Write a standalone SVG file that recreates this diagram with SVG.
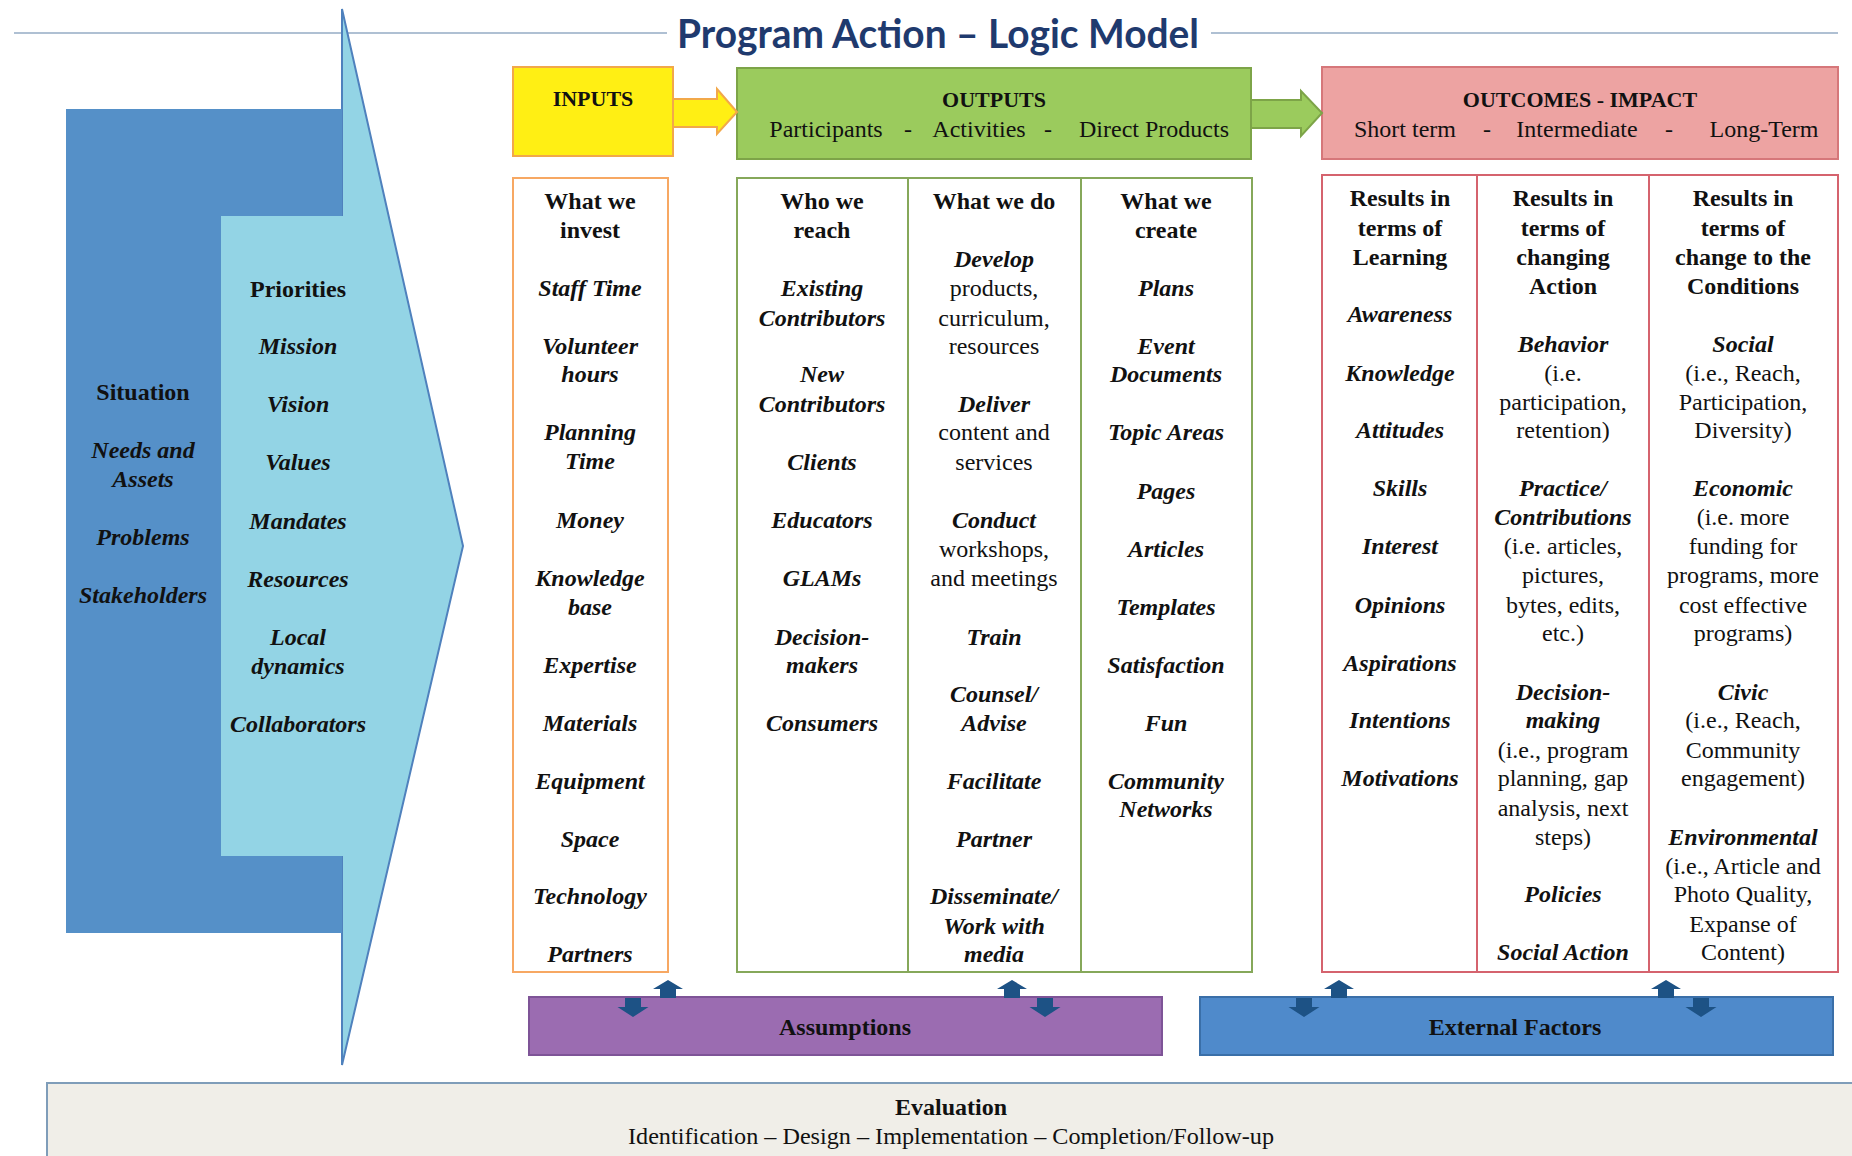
<svg xmlns="http://www.w3.org/2000/svg" width="1852" height="1156" viewBox="0 0 1852 1156">
<style>
text{font-family:"Liberation Serif","Times New Roman",serif;font-size:24px;fill:#111;text-anchor:middle}
.b{font-weight:bold}
.bi{font-weight:bold;font-style:italic}
.h{font-weight:bold;font-size:22px}
.title{font-family:Lato,"Open Sans",sans-serif;font-weight:700;font-size:40px;fill:#1F3A6E;text-anchor:start}
.sa{fill:#1D5285}
</style>
<defs>
<path id="up" d="M-8,18 L-8,9 L-15,9 L0,0 L15,9 L8,9 L8,18 Z"/>
<path id="down" d="M-8,0 L8,0 L8,9 L15.5,9 L0,19 L-15.5,9 L-8,9 Z"/>
</defs>
<rect width="1852" height="1156" fill="#fff"/>

<g id="title">
<line x1="14" y1="33" x2="667" y2="33" stroke="#AFC0D3" stroke-width="2"/>
<line x1="1211" y1="33" x2="1838" y2="33" stroke="#AFC0D3" stroke-width="2"/>
<text class="title" x="677" y="48" textLength="522" lengthAdjust="spacingAndGlyphs">Program Action – Logic Model</text>
</g>

<g id="situation-priorities">
<polygon points="342,9 463,546 342,1065" fill="#93D4E5" stroke="#4F81BD" stroke-width="2"/>
<rect x="66" y="109" width="276" height="824" fill="#5590C8"/>
<rect x="221" y="216" width="123" height="640" fill="#93D4E5"/>
<text class="b" x="143" y="400">Situation</text>
<text class="bi" x="143" y="458">Needs and</text>
<text class="bi" x="143" y="487">Assets</text>
<text class="bi" x="143" y="545">Problems</text>
<text class="bi" x="143" y="603">Stakeholders</text>
<text class="b" x="298" y="297">Priorities</text>
<text class="bi" x="298" y="354">Mission</text>
<text class="bi" x="298" y="412">Vision</text>
<text class="bi" x="298" y="470">Values</text>
<text class="bi" x="298" y="529">Mandates</text>
<text class="bi" x="298" y="587">Resources</text>
<text class="bi" x="298" y="645">Local</text>
<text class="bi" x="298" y="674">dynamics</text>
<text class="bi" x="298" y="732">Collaborators</text>
</g>

<g id="inputs-header">
<rect x="513" y="67" width="160" height="89" fill="#FFEF14" stroke="#F2A84A" stroke-width="2"/>
<text class="h" x="593" y="106">INPUTS</text>
</g>
<g id="outputs-header">
<rect x="737" y="68" width="514" height="91" fill="#9BCB5D" stroke="#7DA448" stroke-width="2"/>
<text class="h" x="994" y="107">OUTPUTS</text>
<text x="826" y="137">Participants</text>
<text x="908" y="137">-</text>
<text x="979" y="137">Activities</text>
<text x="1048" y="137">-</text>
<text x="1154" y="137">Direct Products</text>
</g>
<g id="outcomes-header">
<rect x="1322" y="67" width="516" height="92" fill="#EDA3A2" stroke="#D6777A" stroke-width="2"/>
<text class="h" x="1580" y="107">OUTCOMES - IMPACT</text>
<text x="1405" y="137">Short term</text>
<text x="1487" y="137">-</text>
<text x="1577" y="137">Intermediate</text>
<text x="1669" y="137">-</text>
<text x="1764" y="137">Long-Term</text>
</g>

<g id="inputs-column">
<rect x="513" y="178" width="155" height="794" fill="#fff" stroke="#F7A863" stroke-width="2"/>
<text class="b" x="590" y="209">What we</text>
<text class="b" x="590" y="238">invest</text>
<text class="bi" x="590" y="296">Staff Time</text>
<text class="bi" x="590" y="354">Volunteer</text>
<text class="bi" x="590" y="382">hours</text>
<text class="bi" x="590" y="440">Planning</text>
<text class="bi" x="590" y="469">Time</text>
<text class="bi" x="590" y="528">Money</text>
<text class="bi" x="590" y="586">Knowledge</text>
<text class="bi" x="590" y="615">base</text>
<text class="bi" x="590" y="673">Expertise</text>
<text class="bi" x="590" y="731">Materials</text>
<text class="bi" x="590" y="789">Equipment</text>
<text class="bi" x="590" y="847">Space</text>
<text class="bi" x="590" y="904">Technology</text>
<text class="bi" x="590" y="962">Partners</text>
</g>

<g id="outputs-columns">
<rect x="737" y="178" width="515" height="794" fill="#fff" stroke="#86A85A" stroke-width="2"/>
<line x1="908" y1="178" x2="908" y2="972" stroke="#86A85A" stroke-width="2"/>
<line x1="1081" y1="178" x2="1081" y2="972" stroke="#86A85A" stroke-width="2"/>
<text class="b" x="822" y="209">Who we</text>
<text class="b" x="822" y="238">reach</text>
<text class="bi" x="822" y="296">Existing</text>
<text class="bi" x="822" y="326">Contributors</text>
<text class="bi" x="822" y="382">New</text>
<text class="bi" x="822" y="412">Contributors</text>
<text class="bi" x="822" y="470">Clients</text>
<text class="bi" x="822" y="528">Educators</text>
<text class="bi" x="822" y="586">GLAMs</text>
<text class="bi" x="822" y="645">Decision-</text>
<text class="bi" x="822" y="673">makers</text>
<text class="bi" x="822" y="731">Consumers</text>

<text class="b" x="994" y="209">What we do</text>
<text class="bi" x="994" y="267">Develop</text>
<text x="994" y="296">products,</text>
<text x="994" y="326">curriculum,</text>
<text x="994" y="354">resources</text>
<text class="bi" x="994" y="412">Deliver</text>
<text x="994" y="440">content and</text>
<text x="994" y="470">services</text>
<text class="bi" x="994" y="528">Conduct</text>
<text x="994" y="557">workshops,</text>
<text x="994" y="586">and meetings</text>
<text class="bi" x="994" y="645">Train</text>
<text class="bi" x="994" y="702">Counsel/</text>
<text class="bi" x="994" y="731">Advise</text>
<text class="bi" x="994" y="789">Facilitate</text>
<text class="bi" x="994" y="847">Partner</text>
<text class="bi" x="994" y="904">Disseminate/</text>
<text class="bi" x="994" y="934">Work with</text>
<text class="bi" x="994" y="962">media</text>

<text class="b" x="1166" y="209">What we</text>
<text class="b" x="1166" y="238">create</text>
<text class="bi" x="1166" y="296">Plans</text>
<text class="bi" x="1166" y="354">Event</text>
<text class="bi" x="1166" y="382">Documents</text>
<text class="bi" x="1166" y="440">Topic Areas</text>
<text class="bi" x="1166" y="499">Pages</text>
<text class="bi" x="1166" y="557">Articles</text>
<text class="bi" x="1166" y="615">Templates</text>
<text class="bi" x="1166" y="673">Satisfaction</text>
<text class="bi" x="1166" y="731">Fun</text>
<text class="bi" x="1166" y="789">Community</text>
<text class="bi" x="1166" y="817">Networks</text>
</g>

<g id="outcomes-columns">
<rect x="1322" y="175" width="516" height="797" fill="#fff" stroke="#D5636E" stroke-width="2"/>
<line x1="1477" y1="175" x2="1477" y2="972" stroke="#D5636E" stroke-width="2"/>
<line x1="1649" y1="175" x2="1649" y2="972" stroke="#D5636E" stroke-width="2"/>
<text class="b" x="1400" y="206">Results in</text>
<text class="b" x="1400" y="236">terms of</text>
<text class="b" x="1400" y="265">Learning</text>
<text class="bi" x="1400" y="322">Awareness</text>
<text class="bi" x="1400" y="381">Knowledge</text>
<text class="bi" x="1400" y="438">Attitudes</text>
<text class="bi" x="1400" y="496">Skills</text>
<text class="bi" x="1400" y="554">Interest</text>
<text class="bi" x="1400" y="613">Opinions</text>
<text class="bi" x="1400" y="671">Aspirations</text>
<text class="bi" x="1400" y="728">Intentions</text>
<text class="bi" x="1400" y="786">Motivations</text>

<text class="b" x="1563" y="206">Results in</text>
<text class="b" x="1563" y="236">terms of</text>
<text class="b" x="1563" y="265">changing</text>
<text class="b" x="1563" y="294">Action</text>
<text class="bi" x="1563" y="352">Behavior</text>
<text x="1563" y="381">(i.e.</text>
<text x="1563" y="410">participation,</text>
<text x="1563" y="438">retention)</text>
<text class="bi" x="1563" y="496">Practice/</text>
<text class="bi" x="1563" y="525">Contributions</text>
<text x="1563" y="554">(i.e. articles,</text>
<text x="1563" y="583">pictures,</text>
<text x="1563" y="613">bytes, edits,</text>
<text x="1563" y="641">etc.)</text>
<text class="bi" x="1563" y="700">Decision-</text>
<text class="bi" x="1563" y="728">making</text>
<text x="1563" y="758">(i.e., program</text>
<text x="1563" y="786">planning, gap</text>
<text x="1563" y="816">analysis, next</text>
<text x="1563" y="845">steps)</text>
<text class="bi" x="1563" y="902">Policies</text>
<text class="bi" x="1563" y="960">Social Action</text>

<text class="b" x="1743" y="206">Results in</text>
<text class="b" x="1743" y="236">terms of</text>
<text class="b" x="1743" y="265">change to the</text>
<text class="b" x="1743" y="294">Conditions</text>
<text class="bi" x="1743" y="352">Social</text>
<text x="1743" y="381">(i.e.,  Reach,</text>
<text x="1743" y="410">Participation,</text>
<text x="1743" y="438">Diversity)</text>
<text class="bi" x="1743" y="496">Economic</text>
<text x="1743" y="525">(i.e. more</text>
<text x="1743" y="554">funding for</text>
<text x="1743" y="583">programs, more</text>
<text x="1743" y="613">cost effective</text>
<text x="1743" y="641">programs)</text>
<text class="bi" x="1743" y="700">Civic</text>
<text x="1743" y="728">(i.e., Reach,</text>
<text x="1743" y="758">Community</text>
<text x="1743" y="786">engagement)</text>
<text class="bi" x="1743" y="845">Environmental</text>
<text x="1743" y="874">(i.e., Article and</text>
<text x="1743" y="902">Photo Quality,</text>
<text x="1743" y="932">Expanse of</text>
<text x="1743" y="960">Content)</text>
</g>

<g id="assumptions">
<rect x="529" y="997" width="633" height="58" fill="#9B6CB1" stroke="#7E5497" stroke-width="2"/>
<text class="b" x="845" y="1035">Assumptions</text>
</g>
<g id="external-factors">
<rect x="1200" y="997" width="633" height="58" fill="#4F8ACB" stroke="#3A6FA8" stroke-width="2"/>
<text class="b" x="1515" y="1035">External Factors</text>
</g>

<g id="connectors">
<polygon points="673,99 717,99 717,89 737,112 717,134 717,127 673,127" fill="#FFEF14" stroke="#F2A84A" stroke-width="2"/>
<polygon points="1251,100 1301,100 1301,91 1322,113 1301,136 1301,128 1251,128" fill="#9BCB5D" stroke="#7DA448" stroke-width="2"/>
<use href="#down" class="sa" x="633" y="998"/>
<use href="#up" class="sa" x="668" y="980"/>
<use href="#up" class="sa" x="1012" y="980"/>
<use href="#down" class="sa" x="1045" y="998"/>
<use href="#down" class="sa" x="1304" y="998"/>
<use href="#up" class="sa" x="1339" y="980"/>
<use href="#up" class="sa" x="1666" y="980"/>
<use href="#down" class="sa" x="1701" y="998"/>
</g>

<g id="evaluation">
<rect x="47" y="1083" width="1820" height="90" fill="#F0EEE8" stroke="#7F9DB9" stroke-width="2"/>
<text class="b" x="951" y="1115">Evaluation</text>
<text x="951" y="1144" textLength="646" lengthAdjust="spacingAndGlyphs">Identification – Design – Implementation – Completion/Follow-up</text>
</g>
</svg>
